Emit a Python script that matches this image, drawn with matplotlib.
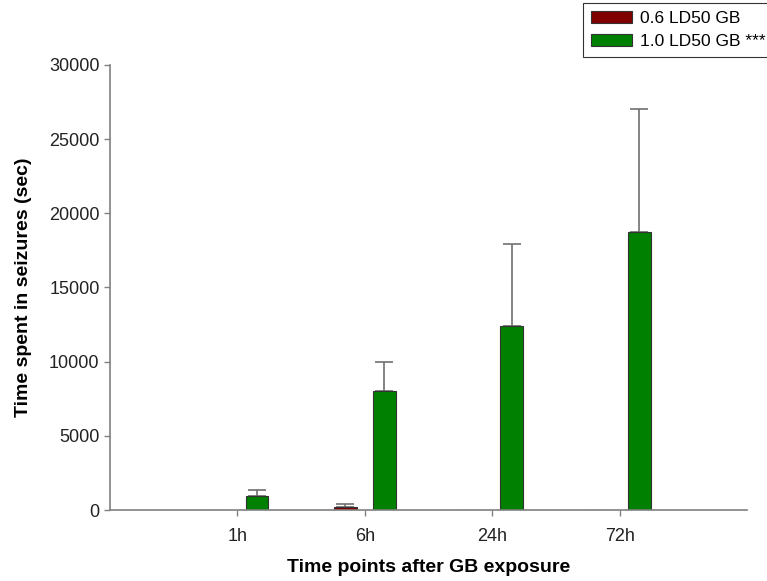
import numpy as np
import matplotlib.pyplot as plt

plt.rcParams['font.family'] = ['Liberation Sans', 'DejaVu Sans']

# data
time_points = ['1h', '6h', '24h', '72h']
low_dose = [0, 200, 0, 0]            # 0.6 LD50 GB
low_dose_err = [0, 200, 0, 0]
high_dose = [950, 8000, 12400, 18750]  # 1.0 LD50 GB
high_dose_err = [400, 1950, 5500, 8250]

x = np.arange(1, len(time_points) + 1)
width = 0.18
offset = 0.154

fig = plt.figure(figsize=(7.67, 5.81), dpi=100)
ax = fig.add_axes([0.1434, 0.1222, 0.8306, 0.7660])

err_kw = dict(ecolor='#707070', elinewidth=1.2, capsize=6.5, capthick=1.2,
              zorder=1)

ax.bar(x - offset, low_dose, width, color='#800000', edgecolor='#333333',
       linewidth=0.8, label='0.6 LD50 GB', zorder=2)
# only the non-zero bar has an error bar
mask = np.array(low_dose) > 0
ax.errorbar(x[mask] - offset, np.array(low_dose)[mask],
            yerr=[np.zeros(mask.sum()), np.array(low_dose_err)[mask]],
            fmt='none', **err_kw)
ax.bar(x + offset, high_dose, width, color='#008000', edgecolor='#333333',
       linewidth=0.8, label='1.0 LD50 GB ***', zorder=2)
ax.errorbar(x + offset, high_dose,
            yerr=[np.zeros(len(high_dose_err)), high_dose_err],
            fmt='none', **err_kw)

ax.set_xlim(0, 5)
ax.set_ylim(0, 30000)
ax.set_xticks(x)
ax.set_xticklabels(time_points)
ax.set_yticks(np.arange(0, 30001, 5000))

for side in ['top', 'right']:
    ax.spines[side].set_visible(False)
for side in ['left', 'bottom']:
    ax.spines[side].set_color('#808080')
    ax.spines[side].set_linewidth(1.2)
ax.tick_params(axis='both', colors='#808080', length=4, width=1, labelsize=13,
               labelcolor='#222222')
ax.tick_params(axis='x', pad=9)

ax.set_ylabel('Time spent in seizures (sec)', fontsize=14, fontweight='bold',
              labelpad=12)
ax.set_xlabel('Time points after GB exposure', fontsize=14, fontweight='bold',
              labelpad=10)

# legend sits partly off the right edge, as in the original
leg = fig.legend(loc='upper left', bbox_to_anchor=(0.760, 0.995), fontsize=12.5,
                 frameon=True, fancybox=False, edgecolor='black',
                 handlelength=2.4, handleheight=0.7, borderpad=0.45,
                 labelspacing=0.45, handletextpad=0.45, borderaxespad=0)
leg.get_frame().set_linewidth(0.8)

plt.savefig('out.png', dpi=100)
